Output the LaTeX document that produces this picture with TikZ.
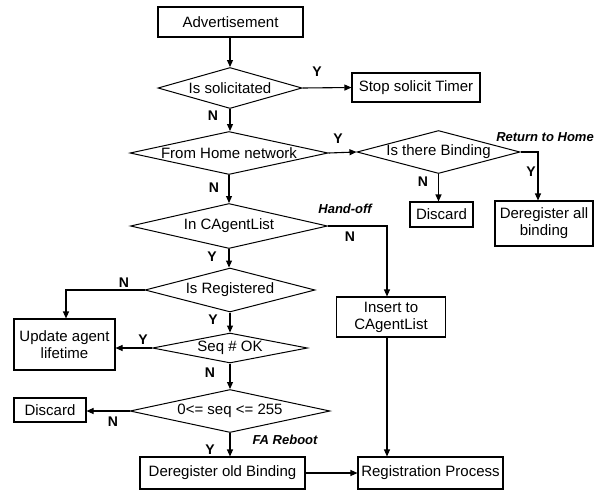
\documentclass[tikz,border=0pt]{standalone}
\usepackage{fontspec}
\setmainfont{Liberation Sans}
\usetikzlibrary{shapes.geometric,arrows.meta}
\begin{document}
\begin{tikzpicture}[x=1pt,y=-1pt,
  font=\fontsize{15}{17}\selectfont,
  box/.style={draw,line width=1.1pt,inner sep=0pt,align=center},
  dia/.style={draw,diamond,line width=1pt,inner sep=0pt},
  arr/.style={-{Triangle[length=7pt,width=6pt]},line width=1.1pt},
  ln/.style={line width=1.1pt},
  yn/.style={font=\fontsize{14}{16}\selectfont\bfseries},
  note/.style={font=\fontsize{13}{15}\selectfont\bfseries\itshape}]
\useasboundingbox (0,0) rectangle (604,491);
% nodes
\node[box,minimum width=145,minimum height=30] (adv) at (230.5,22) {Advertisement};
\node[dia,minimum width=144,minimum height=41,aspect=3.5] (sol) at (230,88) {Is solicitated};
\node[box,minimum width=128,minimum height=29] (stop) at (416,87.5) {Stop solicit Timer};
\node[dia,minimum width=198,minimum height=43,aspect=4.6] (home) at (229,153) {From Home network};
\node[dia,minimum width=163,minimum height=43,aspect=3.8] (bind) at (438.5,152) {Is there Binding};
\node[box,minimum width=63,minimum height=25] (disc1) at (441.5,214.5) {Discard};
\node[box,minimum width=98,minimum height=45] (dereg) at (544,223.5) {Deregister all\\binding};
\node[dia,minimum width=197,minimum height=45,aspect=4.4] (inlist) at (229,226) {In CAgentList};
\node[box,minimum width=109,minimum height=40] (insert) at (391,317) {Insert to\\CAgentList};
\node[dia,minimum width=170,minimum height=44,aspect=3.9] (reg) at (230,290) {Is Registered};
\node[box,minimum width=101,minimum height=51] (update) at (64.5,344.5) {Update agent\\lifetime};
\node[dia,minimum width=155,minimum height=30,aspect=5.2] (seq) at (230,348) {Seq \# OK};
\node[dia,minimum width=200,minimum height=43,aspect=4.6] (range) at (230,411) {0<= seq <= 255};
\node[box,minimum width=72,minimum height=24] (disc2) at (50,410) {Discard};
\node[box,minimum width=165,minimum height=32] (old) at (222.5,473) {Deregister old Binding};
\node[box,minimum width=145,minimum height=32] (regproc) at (430.5,473) {Registration Process};
% connectors
\draw[arr] (adv.south -| sol.north) -- (sol.north);
\draw[arr] (sol.east) -- (stop.west);
\draw[arr] (sol.south) -- (home.north -| sol.south);
\draw[arr] (home.east) -- (bind.west);
\draw[arr] (bind.south) -- (bind.south |- disc1.north);
\draw[arr] (bind.east) -| ([xshift=-6pt]dereg.north);
\draw[arr] (home.south) -- (inlist.north);
\draw[arr] (inlist.east) -| ([xshift=-4pt]insert.north);
\draw[arr] (inlist.south) -- (reg.north -| inlist.south);
\draw[arr] (reg.west) -| ([xshift=1.5pt]update.north);
\draw[arr] (reg.south) -- (seq.north);
\draw[arr] (seq.west) -- (seq.west -| update.east);
\draw[arr] (seq.south) -- (range.north);
\draw[arr] (range.west) -- (disc2.east |- range.west);
\draw[arr] (range.south) -- (range.south |- old.north);
\draw[arr] ([xshift=-4pt]insert.south) -- ([xshift=-4pt]insert.south |- regproc.north);
\draw[arr] (old.east) -- (regproc.west);
% labels
\node[yn] (l1) at (317,72) {Y};
\node[yn] (l2) at (213,116) {N};
\node[yn] (l3) at (338,139) {Y};
\node[yn] (l4) at (423,182) {N};
\node[yn] (l5) at (531,172) {Y};
\node[yn] (l6) at (214,188) {N};
\node[yn] (l7) at (350,237) {N};
\node[yn] (l8) at (212,257) {Y};
\node[yn] (l9) at (124,283) {N};
\node[yn] (l10) at (213,320) {Y};
\node[yn] (l11) at (143,340) {Y};
\node[yn] (l12) at (210,373) {N};
\node[yn] (l13) at (113,422) {N};
\node[yn] (l14) at (210,450) {Y};
\node[note] (n1) at (545,137) {Return to Home};
\node[note] (n2) at (345,209) {Hand-off};
\node[note] (n3) at (285,440) {FA Reboot};
\end{tikzpicture}
\end{document}
